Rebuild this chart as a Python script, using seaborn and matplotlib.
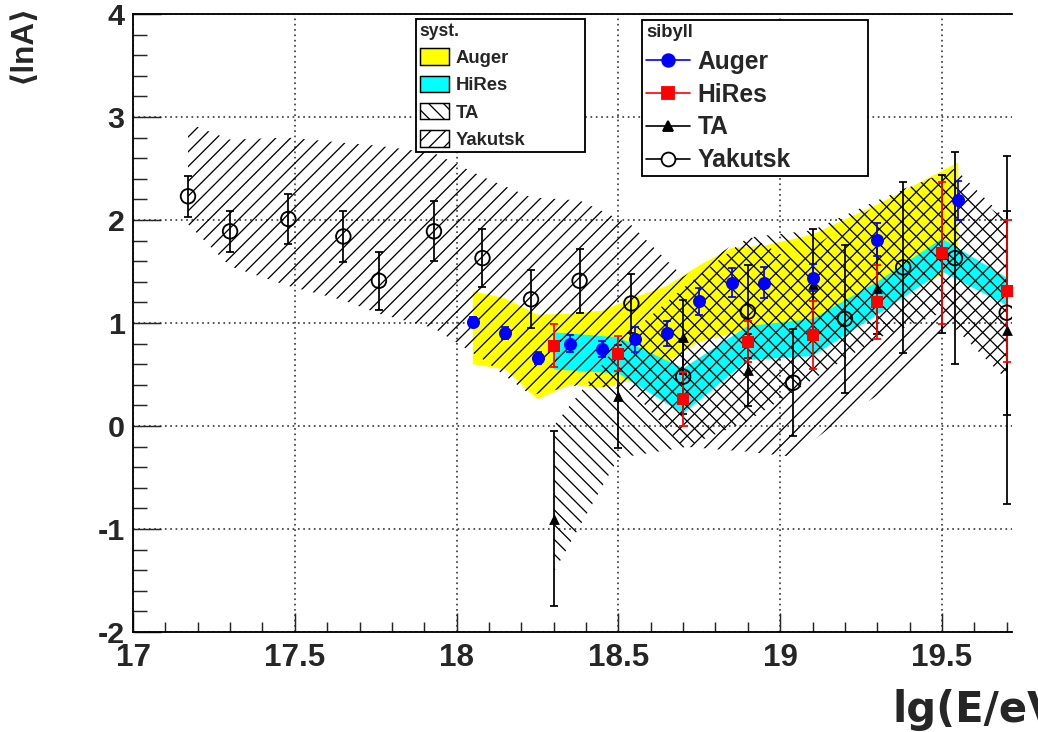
import matplotlib
matplotlib.use("Agg")
import matplotlib.pyplot as plt
from matplotlib.patches import Patch
from matplotlib.lines import Line2D
from matplotlib.ticker import MultipleLocator
import seaborn as sns

# ---- <lnA> from Xmax, interpreted with sibyll ----
auger_x = [18.05, 18.15, 18.25, 18.35, 18.45, 18.55, 18.65, 18.75, 18.85, 18.95, 19.10, 19.30, 19.55]
auger_y = [1.01, 0.90, 0.66, 0.80, 0.75, 0.84, 0.90, 1.21, 1.39, 1.39, 1.44, 1.81, 2.19]
auger_err = [0.05, 0.06, 0.06, 0.08, 0.08, 0.12, 0.12, 0.13, 0.14, 0.15, 0.13, 0.16, 0.19]

hires_x = [18.30, 18.50, 18.70, 18.90, 19.10, 19.30, 19.50, 19.70]
hires_y = [0.78, 0.70, 0.26, 0.82, 0.88, 1.20, 1.68, 1.31]
hires_err = [0.21, 0.17, 0.26, 0.20, 0.33, 0.36, 0.69, 0.69]

ta_x = [18.30, 18.50, 18.70, 18.90, 19.10, 19.30, 19.50, 19.70]
ta_y = [-0.90, 0.29, 0.86, 0.54, 1.38, 1.34, 1.67, 0.93]
ta_err = [0.85, 0.50, 0.36, 0.35, 0.53, 0.45, 0.77, 1.69]

yak_x = [17.17, 17.30, 17.48, 17.65, 17.76, 17.93, 18.08, 18.23, 18.38,
         18.54, 18.70, 18.90, 19.04, 19.20, 19.38, 19.54, 19.70]
yak_y = [2.23, 1.89, 2.01, 1.84, 1.41, 1.89, 1.63, 1.23, 1.41,
         1.19, 0.48, 1.11, 0.42, 1.04, 1.54, 1.63, 1.10]
yak_err = [0.20, 0.20, 0.24, 0.25, 0.28, 0.29, 0.28, 0.28, 0.31,
           0.29, 0.36, 0.45, 0.52, 0.72, 0.83, 1.03, 0.99]

# ---- systematic uncertainty bands (lower / upper edge at each energy) ----
auger_sys_lo = [0.60, 0.55, 0.26, 0.40, 0.37, 0.45, 0.62, 0.82, 0.90, 0.95, 0.99, 1.15, 1.55]
auger_sys_hi = [1.31, 1.24, 1.08, 1.09, 1.12, 1.25, 1.36, 1.56, 1.73, 1.75, 1.86, 2.15, 2.56]

hires_sys_lo = [0.55, 0.51, 0.12, 0.64, 0.68, 1.08, 1.50, 1.17]
hires_sys_hi = [0.91, 0.86, 0.56, 0.97, 1.04, 1.40, 1.82, 1.44]

ta_sys_lo = [-1.42, -0.31, -0.21, 0.05, 0.45, 0.85, 1.10, 0.45]
ta_sys_hi = [0.00, 0.80, 1.34, 1.83, 1.90, 2.19, 2.45, 2.00]

yak_sys_lo = [1.96, 1.55, 1.36, 1.22, 1.09, 0.95, 0.65, 0.30, 0.40,
              0.35, -0.20, -0.25, -0.30, 0.10, 0.45, 0.95, 0.45]
yak_sys_hi = [2.94, 2.78, 2.80, 2.75, 2.72, 2.65, 2.42, 2.22, 2.19,
              1.95, 1.45, 1.85, 1.60, 1.95, 2.30, 2.50, 2.00]

x_ticks = [17, 17.5, 18, 18.5, 19, 19.5]
x_ticklabels = ["17", "17.5", "18", "18.5", "19", "19.5"]
y_ticks = [-2, -1, 0, 1, 2, 3, 4]
y_ticklabels = ["-2", "-1", "0", "1", "2", "3", "4"]

# ---- style ----
sns.set_style("ticks")
plt.rcParams["font.family"] = ["Liberation Sans", "DejaVu Sans"]
plt.rcParams["font.weight"] = "bold"
plt.rcParams["axes.unicode_minus"] = False
plt.rcParams["hatch.linewidth"] = 0.7
plt.rcParams["hatch.color"] = "black"

HATCH_TA = "\\" * 3
HATCH_YAK = "/" * 3

DPI = 133
W, H = 1038, 732
fig = plt.figure(figsize=(W / DPI, H / DPI), dpi=DPI)
fig.patch.set_facecolor("white")

ax_left, ax_right, ax_top, ax_bot = 133, 1012, 14, 632
ax = fig.add_axes([ax_left / W, 1 - ax_bot / H, (ax_right - ax_left) / W, (ax_bot - ax_top) / H])
ax.set_facecolor("white")

x_max = 17 + (ax_right - ax_left) / 323.6
ax.set_xlim(17, x_max)
ax.set_ylim(-2, 4)

# bands
ax.fill_between(auger_x, auger_sys_lo, auger_sys_hi, facecolor="#ffff00", edgecolor="none", lw=0, zorder=2)
ax.fill_between(hires_x, hires_sys_lo, hires_sys_hi, facecolor="#00ffff", edgecolor="none", lw=0, zorder=2.1)
ax.fill_between(ta_x, ta_sys_lo, ta_sys_hi, facecolor="none", edgecolor="black", lw=0,
                hatch=HATCH_TA, zorder=2.2)
ax.fill_between(yak_x, yak_sys_lo, yak_sys_hi, facecolor="none", edgecolor="black", lw=0,
                hatch=HATCH_YAK, zorder=2.3)

# error bars
eb_kw = dict(fmt="none", elinewidth=0.95, capsize=2.2, capthick=0.95)
ax.errorbar(yak_x, yak_y, yerr=yak_err, ecolor="black", zorder=3, **eb_kw)
ax.errorbar(ta_x, ta_y, yerr=ta_err, ecolor="black", zorder=3.1, **eb_kw)
ax.errorbar(hires_x, hires_y, yerr=hires_err, ecolor="red", zorder=3.2, **eb_kw)
ax.errorbar(auger_x, auger_y, yerr=auger_err, ecolor="blue", zorder=3.3, **eb_kw)

# markers
sns.scatterplot(x=yak_x, y=yak_y, ax=ax, marker="o", s=62, facecolor="none",
                edgecolor="black", linewidth=1.0, zorder=4)
sns.scatterplot(x=ta_x, y=ta_y, ax=ax, marker="^", s=34, color="black",
                edgecolor="black", linewidth=0, zorder=4.1)
sns.scatterplot(x=hires_x, y=hires_y, ax=ax, marker="s", s=48, color="red",
                edgecolor="red", linewidth=0, zorder=4.2)
sns.scatterplot(x=auger_x, y=auger_y, ax=ax, marker="o", s=50, color="blue",
                edgecolor="blue", linewidth=0, zorder=4.3)

# axes frame, ticks, grid
for side in ["left", "bottom", "top"]:
    ax.spines[side].set_visible(True)
    ax.spines[side].set_linewidth(1.0)
    ax.spines[side].set_color("black")
ax.spines["right"].set_visible(False)

ax.set_xticks(x_ticks)
ax.set_xticklabels(x_ticklabels)
ax.set_yticks(y_ticks)
ax.set_yticklabels(y_ticklabels)
ax.xaxis.set_minor_locator(MultipleLocator(0.1))
ax.yaxis.set_minor_locator(MultipleLocator(0.2))
ax.tick_params(axis="y", which="major", direction="in", length=15, width=0.8, pad=4.5,
               labelsize=16.5, left=True, right=False)
ax.tick_params(axis="y", which="minor", direction="in", length=7.5, width=0.8, left=True, right=False)
ax.tick_params(axis="x", which="major", direction="in", length=10.3, width=0.8, pad=6,
               labelsize=17, bottom=True, top=False)
ax.tick_params(axis="x", which="minor", direction="in", length=5.4, width=0.8, bottom=True, top=False)
for lab in ax.get_xticklabels() + ax.get_yticklabels():
    lab.set_fontweight("bold")

ax.grid(True, which="major", linestyle=(0, (1, 2.2)), linewidth=0.9, color="#333333")
ax.set_axisbelow(True)

ax.set_xlabel("")
ax.set_ylabel("")
fig.text(893 / W, 1 - 722 / H, "lg(E/eV)", ha="left", va="baseline",
         fontsize=22.5, fontweight="bold", family=["DejaVu Sans"])
fig.text(23 / W, 1 - 43 / H, "\u27e8lnA\u27e9", rotation=90, ha="center", va="center",
         fontsize=17, fontweight="bold")

# legends
syst_handles = [
    Patch(facecolor="#ffff00", edgecolor="black", linewidth=0.8),
    Patch(facecolor="#00ffff", edgecolor="black", linewidth=0.8),
    Patch(facecolor="white", edgecolor="black", linewidth=0.8, hatch=HATCH_TA),
    Patch(facecolor="white", edgecolor="black", linewidth=0.8, hatch=HATCH_YAK),
]
names = ["Auger", "HiRes", "TA", "Yakutsk"]
leg1 = ax.legend(syst_handles, names, title="syst.", loc="upper left",
                 bbox_to_anchor=(416 / W, 1 - 19 / H, (585 - 416) / W, 0),
                 bbox_transform=fig.transFigure, mode="expand", borderaxespad=0,
                 prop={"size": 10, "weight": "bold"},
                 title_fontproperties={"size": 9.5, "weight": "bold"}, alignment="left",
                 handlelength=1.6, handleheight=1.0, handletextpad=0.35, borderpad=0.2,
                 labelspacing=0.47, frameon=True, fancybox=False, framealpha=1,
                 edgecolor="black")
leg1.get_frame().set_linewidth(1.0)
ax.add_artist(leg1)

sib_handles = [
    Line2D([], [], color="blue", marker="o", markersize=6.8, lw=0.9),
    Line2D([], [], color="red", marker="s", markersize=6.5, lw=0.9),
    Line2D([], [], color="black", marker="^", markersize=5.5, lw=0.9),
    Line2D([], [], color="black", marker="o", markersize=7.5, markerfacecolor="white", lw=0.9),
]
leg2 = ax.legend(sib_handles, names, title="sibyll", loc="upper left",
                 bbox_to_anchor=(642 / W, 1 - 20 / H, (868 - 642) / W, 0),
                 bbox_transform=fig.transFigure, mode="expand", borderaxespad=0,
                 prop={"size": 13.3, "weight": "bold"},
                 title_fontproperties={"size": 10, "weight": "bold"}, alignment="left",
                 handlelength=1.8, handletextpad=0.3, borderpad=0.16,
                 labelspacing=0.36, frameon=True, fancybox=False, framealpha=1,
                 edgecolor="black")
leg2.get_frame().set_linewidth(1.0)
for lg in (leg1, leg2):
    lg.set_zorder(10)

fig.savefig("out.png", dpi=DPI, facecolor="white")
